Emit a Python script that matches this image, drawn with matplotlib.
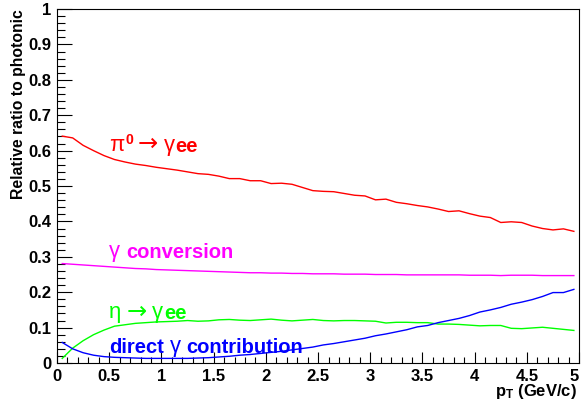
import matplotlib
matplotlib.use("Agg")
import matplotlib.pyplot as plt
import numpy as np
from matplotlib.ticker import MultipleLocator, FuncFormatter

plt.rcParams['font.family'] = ['Liberation Sans', 'DejaVu Sans']
plt.rcParams['font.weight'] = 'bold'
plt.rcParams['mathtext.fontset'] = 'custom'
plt.rcParams['mathtext.rm'] = 'Liberation Sans:weight=normal'
plt.rcParams['mathtext.bf'] = 'Liberation Sans:weight=bold'

# bin centres, 0.1 GeV/c wide
pt = np.arange(50) * 0.1 + 0.05

pi0_ratio = [0.641, 0.636, 0.615, 0.600, 0.586, 0.575, 0.568, 0.562, 0.558, 0.553,
             0.549, 0.545, 0.540, 0.535, 0.533, 0.528, 0.521, 0.521, 0.515, 0.515,
             0.507, 0.508, 0.505, 0.496, 0.487, 0.485, 0.484, 0.479, 0.474, 0.472,
             0.461, 0.463, 0.454, 0.450, 0.445, 0.441, 0.435, 0.428, 0.430, 0.422,
             0.415, 0.411, 0.397, 0.399, 0.397, 0.387, 0.380, 0.376, 0.379, 0.372]

conv_ratio = [0.281, 0.279, 0.277, 0.275, 0.273, 0.271, 0.269, 0.267, 0.266, 0.264,
              0.263, 0.262, 0.261, 0.260, 0.259, 0.258, 0.257, 0.256, 0.255, 0.255,
              0.254, 0.254, 0.253, 0.253, 0.252, 0.252, 0.252, 0.251, 0.251, 0.251,
              0.250, 0.250, 0.250, 0.249, 0.249, 0.249, 0.249, 0.249, 0.249, 0.248,
              0.248, 0.248, 0.247, 0.248, 0.248, 0.248, 0.247, 0.247, 0.247, 0.247]

eta_ratio = [0.013, 0.042, 0.063, 0.080, 0.093, 0.104, 0.108, 0.112, 0.114, 0.116,
             0.117, 0.118, 0.120, 0.118, 0.119, 0.122, 0.123, 0.121, 0.120, 0.122,
             0.124, 0.121, 0.119, 0.121, 0.123, 0.120, 0.119, 0.120, 0.120, 0.119,
             0.118, 0.113, 0.115, 0.115, 0.114, 0.114, 0.110, 0.110, 0.109, 0.107,
             0.105, 0.106, 0.106, 0.098, 0.097, 0.099, 0.101, 0.098, 0.095, 0.092]

direct_ratio = [0.058, 0.040, 0.029, 0.022, 0.018, 0.016, 0.015, 0.014, 0.013, 0.013,
                0.013, 0.013, 0.013, 0.014, 0.015, 0.017, 0.019, 0.022, 0.024, 0.027,
                0.030, 0.033, 0.037, 0.041, 0.045, 0.051, 0.055, 0.060, 0.065, 0.070,
                0.077, 0.082, 0.088, 0.094, 0.102, 0.106, 0.114, 0.120, 0.126, 0.134,
                0.144, 0.150, 0.157, 0.166, 0.172, 0.179, 0.188, 0.199, 0.199, 0.208]

SANS = 'Liberation Sans'
SYM = 'DejaVu Sans'


def rich_label(ax, x, y, pieces, color, size=14.5):
    """Draw a label from pieces (text, family, weight, gap_pt, scale, superscript)."""
    s, fam, w, _, k, _ = pieces[0]
    base = ax.text(x, y, s, family=fam, fontweight=w, fontsize=size * k,
                   color=color, va='baseline')
    prev = base
    for s, fam, w, gap, k, sup in pieces[1:]:
        dy = size * 0.45 if sup else 0
        prev = ax.annotate(s, xy=(1, 0), xycoords=(prev, base),
                           xytext=(gap, dy), textcoords='offset points',
                           family=fam, fontweight=w, fontsize=size * k,
                           color=color, va='bottom', ha='left')
    return base


fig = plt.figure(figsize=(5.82, 4.04), dpi=100)
ax = fig.add_axes([0.098, 0.1015, 0.897, 0.876])

ax.plot(pt, pi0_ratio, color='#ff0000', lw=1.0)
ax.plot(pt, conv_ratio, color='#ff00ff', lw=1.0)
ax.plot(pt, eta_ratio, color='#00ff00', lw=1.0)
ax.plot(pt, direct_ratio, color='#0000ff', lw=1.0)

G = 1.1  # greek letters a bit larger than the latin text
rich_label(ax, 0.5, 0.599,
           [("\u03c0", SANS, 'normal', 0, G, False),
            ("0", SANS, 'bold', 0.5, 0.7, True),
            ("\u2192", SYM, 'normal', 3.5, 1.2, False),
            ("\u03b3", SANS, 'normal', 4, G, False),
            ("ee", SANS, 'bold', 0.3, 1, False)], '#ff0000')
rich_label(ax, 0.5, 0.299,
           [("\u03b3", SANS, 'normal', 0, G, False),
            ("conversion", SANS, 'bold', 4, 1, False)], '#ff00ff')
rich_label(ax, 0.5, 0.126,
           [("\u03b7", SANS, 'normal', 0, G, False),
            ("\u2192", SYM, 'normal', 3.5, 1.2, False),
            ("\u03b3", SANS, 'normal', 4, G, False),
            ("ee", SANS, 'bold', 0.3, 1, False)], '#00ff00')
rich_label(ax, 0.5, 0.027,
           [("direct", SANS, 'bold', 0, 1, False),
            ("\u03b3", SANS, 'normal', 4, G, False),
            ("contribution", SANS, 'bold', 4, 1, False)], '#0000ff')

ax.set_xlim(0, 5)
ax.set_ylim(0, 1)
ax.xaxis.set_major_locator(MultipleLocator(0.5))
ax.xaxis.set_minor_locator(MultipleLocator(0.1))
ax.yaxis.set_major_locator(MultipleLocator(0.1))
ax.yaxis.set_minor_locator(MultipleLocator(0.02))
fmt = FuncFormatter(lambda v, _: f"{v:g}")
ax.xaxis.set_major_formatter(fmt)
ax.yaxis.set_major_formatter(fmt)

ax.tick_params(axis='both', which='both', direction='in', top=False, right=False,
               labelsize=12, width=0.8)
ax.tick_params(axis='x', which='major', length=8, pad=4)
ax.tick_params(axis='x', which='minor', length=4)
ax.tick_params(axis='y', which='major', length=11, pad=4)
ax.tick_params(axis='y', which='minor', length=5.5)
for s in ax.spines.values():
    s.set_linewidth(0.8)

ax.set_xlabel(r"$\mathbf{p_{T}}$ (GeV/c)", fontsize=12, fontweight='bold', loc='right')
ax.xaxis.set_label_coords(0.996, -0.055)
ax.set_ylabel("Relative ratio to photonic", fontsize=11.3, fontweight='bold', loc='top')
ax.yaxis.set_label_coords(-0.06, 1.0)

# keep the last x label inside the canvas
fig.canvas.draw()
for tick in ax.xaxis.get_major_ticks():
    tick.label1.set_fontweight('bold')
    if abs(tick.get_loc() - 5) < 1e-6:
        tick.label1.set_horizontalalignment('right')
        tick.label1.set_x(5.0)
for tick in ax.yaxis.get_major_ticks():
    tick.label1.set_fontweight('bold')

fig.savefig("out.png", dpi=100)
